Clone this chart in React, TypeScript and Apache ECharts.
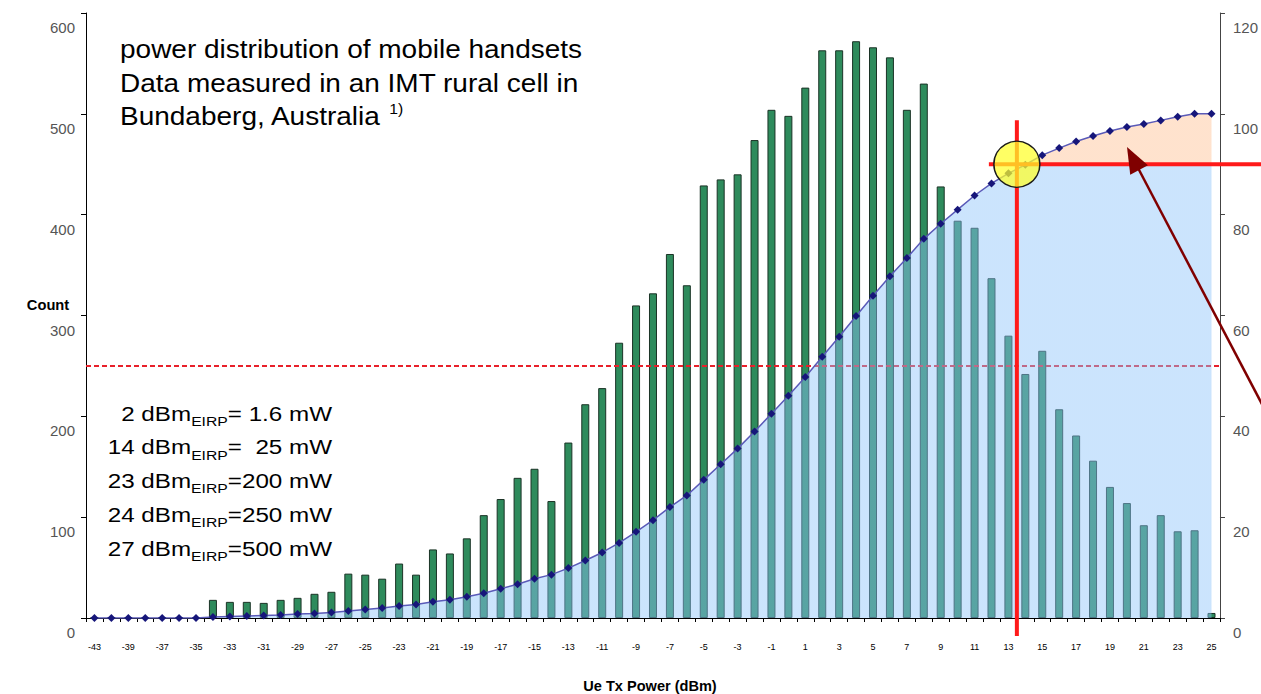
import React, { useEffect, useRef } from 'react';
import * as echarts from 'echarts';

const categories = ['-43', '-41', '-39', '-38', '-37', '-36', '-35', '-34', '-33', '-32', '-31', '-30', '-29', '-28', '-27', '-26', '-25', '-24', '-23', '-22', '-21', '-20', '-19', '-18', '-17', '-16', '-15', '-14', '-13', '-12', '-11', '-10', '-9', '-8', '-7', '-6', '-5', '-4', '-3', '-2', '-1', '0', '1', '2', '3', '4', '5', '6', '7', '8', '9', '10', '11', '12', '13', '14', '15', '16', '17', '18', '19', '20', '21', '22', '23', '24', '25'];

const counts = [0, 0, 0, 0, 0, 0, 0, 18, 16, 16, 15, 18, 20, 24, 26, 44, 43, 39, 54, 43, 68, 64, 79, 102, 118, 139, 148, 116, 174, 212, 228, 273, 310, 322, 361, 330, 429, 435, 440, 474, 504, 498, 526, 563, 563, 572, 566, 556, 504, 530, 428, 394, 387, 337, 280, 242, 265, 207, 181, 156, 130, 114, 92, 102, 86, 87, 5];

const cumulativePct = [0, 0, 0, 0, 0, 0, 0, 0.2, 0.3, 0.4, 0.5, 0.6, 0.8, 0.9, 1.1, 1.4, 1.7, 2.0, 2.4, 2.7, 3.2, 3.6, 4.2, 4.9, 5.8, 6.7, 7.8, 8.6, 9.9, 11.4, 13.0, 14.9, 17.1, 19.4, 22.0, 24.3, 27.4, 30.5, 33.6, 37.0, 40.5, 44.1, 47.8, 51.8, 55.8, 59.9, 63.9, 67.8, 71.4, 75.2, 78.2, 81.0, 83.8, 86.2, 88.2, 89.9, 91.8, 93.2, 94.5, 95.6, 96.6, 97.4, 98.0, 98.7, 99.4, 100.0, 100.0];

const titleLines = ['power distribution of mobile handsets', 'Data measured in an IMT rural cell in', 'Bundaberg, Australia '];
const titleNote = '1)';
const eirpDbm = ['2', '14', '23', '24', '27'];
const eirpMw = ['= 1.6 mW', '=  25 mW', '=200 mW', '=250 mW', '=500 mW'];

const medianPct = 50;
const thresholdPct = 90;
const thresholdCats = ['13', '14'];

const FONT = '"Liberation Sans", Arial, sans-serif';

export default function App() {
  const ref = useRef<HTMLDivElement>(null);

  useEffect(() => {
    if (!ref.current) return;
    const chart = echarts.init(ref.current, undefined, { renderer: 'svg' });

    const areaColor = new echarts.graphic.LinearGradient(0, 0, 0, 1, [
      { offset: 0, color: 'rgba(255,180,125,0.38)' },
      { offset: (100 - thresholdPct) / 100, color: 'rgba(255,180,125,0.38)' },
      { offset: (100 - thresholdPct) / 100, color: 'rgba(140,195,250,0.45)' },
      { offset: 1, color: 'rgba(140,195,250,0.45)' },
    ]);

    chart.setOption({
      animation: false,
      backgroundColor: '#ffffff',
      grid: { left: 86, right: 39, top: 13, bottom: 76, containLabel: false },
      xAxis: {
        type: 'category',
        data: categories,
        boundaryGap: true,
        axisLine: { lineStyle: { color: '#000', width: 1 } },
        axisTick: { show: true, interval: 0, length: 4, lineStyle: { color: '#000' } },
        axisLabel: { interval: 1, fontSize: 9, color: '#000', margin: 24, fontFamily: FONT },
        splitLine: { show: false },
      },
      yAxis: [
        {
          type: 'value', min: 0, max: 600, interval: 100, position: 'left',
          axisLine: { show: true, lineStyle: { color: '#000' } },
          axisTick: { show: true, length: 5, lineStyle: { color: '#000' } },
          splitLine: { show: false },
          axisLabel: { color: '#555', fontSize: 15, margin: 11, verticalAlign: 'top', padding: [7, 0, 0, 0], fontFamily: FONT },
        },
        {
          type: 'value', min: 0, max: 120, interval: 20, position: 'right',
          axisLine: { show: true, lineStyle: { color: '#444' } },
          axisTick: { show: true, length: 5, lineStyle: { color: '#444' } },
          splitLine: { show: false },
          axisLabel: { color: '#555', fontSize: 15, margin: 13, verticalAlign: 'top', padding: [7, 0, 0, 0], fontFamily: FONT },
        },
      ],
      series: [
        {
          type: 'bar',
          data: counts,
          yAxisIndex: 0,
          barWidth: 8,
          z: 2,
          itemStyle: { color: '#2e8b5c', borderColor: '#1b3326', borderWidth: 1 },
          markLine: {
            silent: true,
            z: 3,
            symbol: 'none',
            label: { show: false },
            lineStyle: { color: '#e8202a', type: [5, 3], width: 2 },
            data: [{ yAxis: (medianPct / 120) * 600 }],
          },
        },
        {
          type: 'line',
          data: cumulativePct,
          yAxisIndex: 1,
          z: 5,
          symbol: 'diamond',
          symbolSize: 8,
          showAllSymbol: true,
          itemStyle: { color: '#16167a' },
          lineStyle: { color: '#5a5ab8', width: 1.5 },
          areaStyle: { color: areaColor, opacity: 1 },
        },
      ],
    });

    const xa = chart.convertToPixel({ xAxisIndex: 0 }, thresholdCats[0]) as number;
    const xb = chart.convertToPixel({ xAxisIndex: 0 }, thresholdCats[1]) as number;
    const xv = (xa + xb) / 2;
    const y90 = chart.convertToPixel({ yAxisIndex: 1 }, thresholdPct) as number;
    const y0 = chart.convertToPixel({ yAxisIndex: 1 }, 0) as number;

    const tail = [1263, 406];
    const tip = [1127, 147];
    const dx = tip[0] - tail[0];
    const dy = tip[1] - tail[1];
    const len = Math.sqrt(dx * dx + dy * dy);
    const ux = dx / len;
    const uy = dy / len;
    const headL = 26;
    const headW = 10;
    const bx = tip[0] - ux * headL;
    const by = tip[1] - uy * headL;
    const px = -uy;
    const py = ux;

    const graphics: any[] = [];
    titleLines.forEach((t, i) => {
      graphics.push({
        type: 'text',
        x: 120,
        y: 50 + i * 33.5,
        scaleX: 1.12,
        z: 20,
        style: i === 2
          ? {
              text: `{m|${t}}{s|${titleNote}}`,
              verticalAlign: 'middle',
              align: 'left',
              rich: {
                m: { fontSize: 25, fontFamily: FONT, fill: '#000', lineHeight: 30 },
                s: { fontSize: 14, fontFamily: FONT, fill: '#000', lineHeight: 30, verticalAlign: 'top' },
              },
            }
          : { text: t, fontSize: 25, fontFamily: FONT, fill: '#000', verticalAlign: 'middle', align: 'left' },
      });
    });
    eirpDbm.forEach((d, i) => {
      graphics.push({
        type: 'text',
        x: 332,
        y: 414 + i * 33.7,
        scaleX: 1.21,
        z: 20,
        style: {
          text: `{a|${d} dBm}{s|EIRP}{a|${eirpMw[i]}}`,
          align: 'right',
          verticalAlign: 'middle',
          rich: {
            a: { fontSize: 20, fontFamily: FONT, fill: '#000', lineHeight: 28 },
            s: { fontSize: 13, fontFamily: FONT, fill: '#000', lineHeight: 28, verticalAlign: 'bottom' },
          },
        },
      });
    });
    graphics.push({
      type: 'text', x: 48, y: 305, z: 20, scaleX: 1.05,
      style: { text: 'Count', fontSize: 14, fontWeight: 'bold', fontFamily: FONT, fill: '#000', align: 'center', verticalAlign: 'middle' },
    });
    graphics.push({
      type: 'text', x: 650, y: 686, z: 20, scaleX: 1.04,
      style: { text: 'Ue Tx Power (dBm)', fontSize: 14, fontWeight: 'bold', fontFamily: FONT, fill: '#000', align: 'center', verticalAlign: 'middle' },
    });
    // red threshold cross
    graphics.push({
      type: 'line', z: 10,
      shape: { x1: xv, y1: y90 - 44, x2: xv, y2: y0 + 18 },
      style: { stroke: '#ff1a1a', lineWidth: 4 },
    });
    graphics.push({
      type: 'line', z: 10,
      shape: { x1: xv - 28, y1: y90, x2: 1265, y2: y90 },
      style: { stroke: '#ff1a1a', lineWidth: 4 },
    });
    graphics.push({
      type: 'circle', z: 11,
      shape: { cx: xv, cy: y90, r: 23 },
      style: { fill: 'rgba(255,255,40,0.72)', stroke: '#1a1a1a', lineWidth: 1.5 },
    });
    // arrow
    graphics.push({
      type: 'line', z: 12,
      shape: { x1: tail[0], y1: tail[1], x2: bx + ux * 2, y2: by + uy * 2 },
      style: { stroke: '#800000', lineWidth: 2.5 },
    });
    graphics.push({
      type: 'polygon', z: 12,
      shape: { points: [[tip[0], tip[1]], [bx + px * headW, by + py * headW], [bx - px * headW, by - py * headW]] },
      style: { fill: '#800000' },
    });

    chart.setOption({ graphic: graphics });

    return () => chart.dispose();
  }, []);

  return (
    <div
      ref={ref}
      style={{ position: 'fixed', left: 0, top: 0, width: 1261, height: 694, background: '#fff' }}
    />
  );
}
